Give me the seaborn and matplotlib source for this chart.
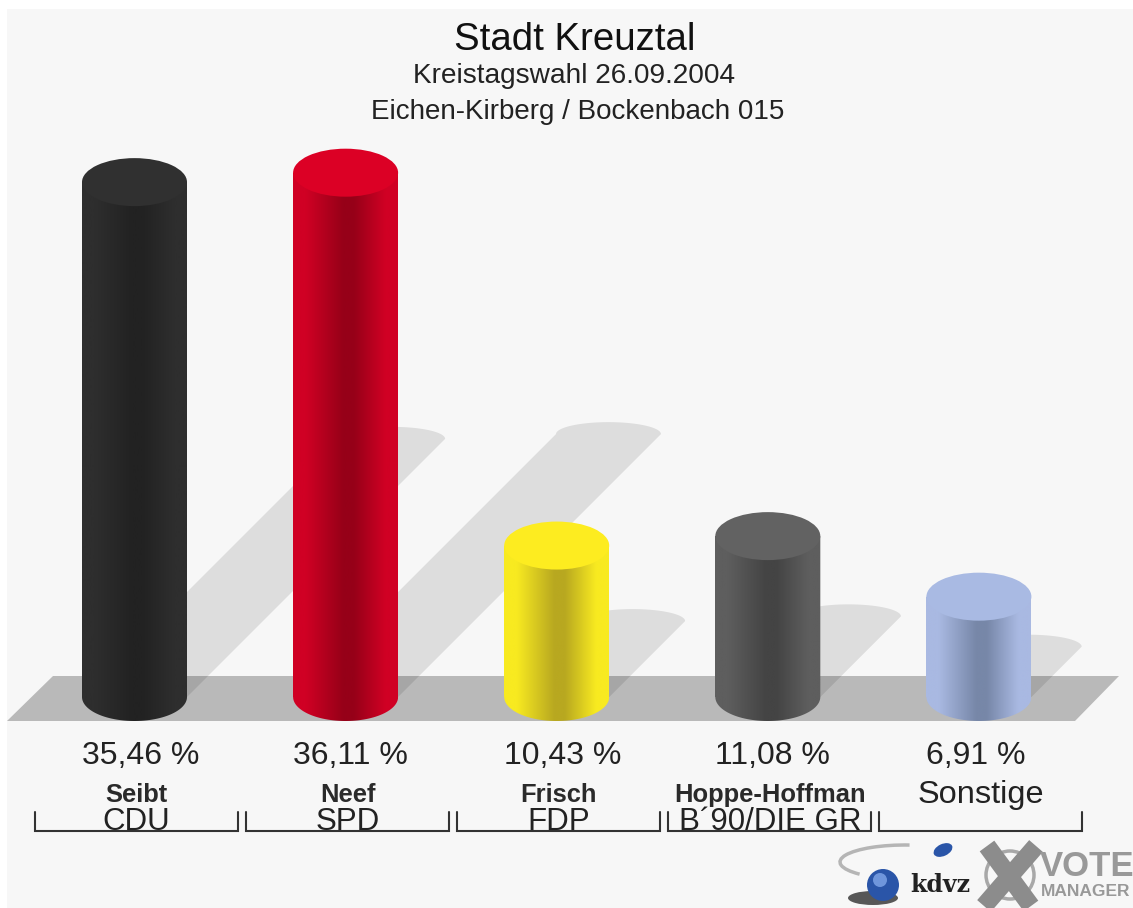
import matplotlib
matplotlib.use("Agg")
import matplotlib.pyplot as plt
import seaborn as sns
import numpy as np
from matplotlib.colors import LinearSegmentedColormap
from matplotlib.patches import Ellipse, Polygon, Circle, Arc

# data
kandidaten = ["Seibt", "Neef", "Frisch", "Hoppe-Hoffman", "Sonstige"]
parteien = ["CDU", "SPD", "FDP", "B´90/DIE GR", ""]
werte = [35.46, 36.11, 10.43, 11.08, 6.91]

# colours: top, side edge, side dark
farbe_top = ["#303030", "#dc0025", "#fdec20", "#626262", "#a9bae3"]
farbe_rand = ["#2e2e2e", "#d00024", "#f8ea20", "#5e5e5e", "#a9b9e2"]
farbe_dunkel = ["#222222", "#960018", "#b8a820", "#444444", "#7787a8"]

W, H = 1133, 908
PX_X = 211.1      # px per category
PX_Y = 14.52      # px per percent
X0, Y0 = 134.5, 697

sns.set_theme(style="white")
plt.rcParams["font.family"] = ["Liberation Sans", "DejaVu Sans"]

fig = plt.figure(figsize=(W / 100, H / 100), dpi=100, facecolor="white")

# pixel axes for the background and logo
bg = fig.add_axes([0, 0, 1, 1], zorder=0)
bg.set_xlim(0, W)
bg.set_ylim(H, 0)
bg.axis("off")
bg.add_patch(Polygon([(7, 9), (W, 9), (W, H), (7, H)], color="#f7f7f7", lw=0))
bg.add_patch(Polygon([(7, 721), (53, 676), (1119, 676), (1075, 721)], color="#b9b9b9", lw=0))

bg.text(575, 40, "Stadt Kreuztal", ha="center", va="center", fontsize=27.6, color="#111111")
bg.text(574, 76, "Kreistagswahl 26.09.2004", ha="center", va="center", fontsize=20.2, color="#222222")
bg.text(578, 112, "Eichen-Kirberg / Bockenbach 015", ha="center", va="center", fontsize=20, color="#222222")

# logo
bg.add_patch(Arc((905, 862), 130, 34, theta1=165, theta2=285, color="#b5b5b5", lw=2.5))
bg.add_patch(Ellipse((873, 898), 50, 14, color="#222222", lw=0, alpha=0.75))
bg.add_patch(Circle((883, 885), 16, color="#2a55a8", lw=0))
bg.add_patch(Circle((880, 880), 7, color="#6f96dc", lw=0))
bg.add_patch(Ellipse((943, 850), 20, 12, angle=-25, color="#2a55a8", lw=0))
bg.text(940, 885, "kdvz", ha="center", va="center", fontsize=17, fontweight="bold",
        family=["DejaVu Serif"], color="#222222")
bg.add_patch(Circle((1010, 875), 24, fill=False, ec="#a8a8a8", lw=2.5))
bg.plot([987, 1031], [846, 906], color="#8c8c8c", lw=13, solid_capstyle="butt")
bg.plot([1036, 984], [846, 906], color="#8c8c8c", lw=13, solid_capstyle="butt")
bg.text(1040, 866, "VOTE", ha="left", va="center", fontsize=25, fontweight="bold", color="#999999")
bg.text(1041, 891, "MANAGER", ha="left", va="center", fontsize=12.5, fontweight="bold", color="#999999")

# chart axes, same area as figure but in category / percent units
ax = fig.add_axes([0, 0, 1, 1], zorder=1)
ax.patch.set_alpha(0)
sns.barplot(x=kandidaten, y=werte, hue=kandidaten, palette=farbe_rand, width=105 / PX_X,
            saturation=1, legend=False, linewidth=0, ax=ax, zorder=3)
ax.axis("off")

ell_h = 48 / PX_Y
schatten_dx = 7.28 / PX_X
schatten_dy = 7.28 / PX_Y
t = np.linspace(0, np.pi, 60)
balken = sorted(ax.patches, key=lambda p: p.get_x())

for i, (p, v) in enumerate(zip(balken, werte)):
    links, breite = p.get_x(), p.get_width()
    mitte = links + breite / 2
    rechts = links + breite

    # shadow falling back to the right
    sx, sy = schatten_dx * v, schatten_dy * v
    bogen_x = mitte + sx + breite / 2 * np.cos(t)
    bogen_y = sy + 12 / PX_Y * np.sin(t)
    pts = [(links, 0), (rechts, 0)] + list(zip(bogen_x, bogen_y))
    ax.add_patch(Polygon(pts, closed=True, color="black", alpha=0.1, lw=0, zorder=2))

    # cylinder side with gradient
    cmap = LinearSegmentedColormap.from_list("seite", [
        (0, farbe_rand[i]), (0.12, farbe_rand[i]), (0.48, farbe_dunkel[i]),
        (0.58, farbe_dunkel[i]), (0.88, farbe_rand[i]), (1, farbe_rand[i])])
    unten_x = mitte - breite / 2 * np.cos(t)
    unten_y = -ell_h / 2 * np.sin(t)
    umriss = list(zip(unten_x, unten_y)) + [(rechts, v), (links, v)]
    clip = Polygon(umriss, closed=True, transform=ax.transData, fill=False, lw=0)
    ax.add_patch(clip)
    bild = ax.imshow(np.linspace(0, 1, 256).reshape(1, -1), cmap=cmap, aspect="auto",
                     extent=[links, rechts, -ell_h, v], zorder=4)
    bild.set_clip_path(clip)

    # top of the cylinder
    ax.add_patch(Ellipse((mitte, v), breite, ell_h, color=farbe_top[i], lw=0, zorder=5))

    # labels
    ax.text(links, -59 / PX_Y, f"{v:.2f}".replace(".", ",") + " %", ha="left", va="center",
            fontsize=23, color="#222222")
    if parteien[i] == "":
        ax.text(mitte + 2 / PX_X, -98 / PX_Y, kandidaten[i], ha="center", va="center",
                fontsize=23.4, color="#222222")
    else:
        ax.text(mitte + 2 / PX_X, -98 / PX_Y, kandidaten[i], ha="center", va="center",
                fontsize=18.4, fontweight="bold", color="#2a2a2a")
    ax.text(mitte + 2 / PX_X, -125 / PX_Y, parteien[i], ha="center", va="center",
            fontsize=22.5, color="#222222")

    # bracket under each column
    kl, kr = mitte + 2 / PX_X - 101.5 / PX_X, mitte + 2 / PX_X + 101.5 / PX_X
    ax.plot([kl, kl, kr, kr], [-115 / PX_Y, -134 / PX_Y, -134 / PX_Y, -115 / PX_Y],
            color="#333333", lw=1.5, solid_joinstyle="miter", zorder=3)

ax.set_xlim(-X0 / PX_X, (W - X0) / PX_X)
ax.set_ylim((Y0 - H) / PX_Y, Y0 / PX_Y)

fig.savefig("out.png", dpi=100)
